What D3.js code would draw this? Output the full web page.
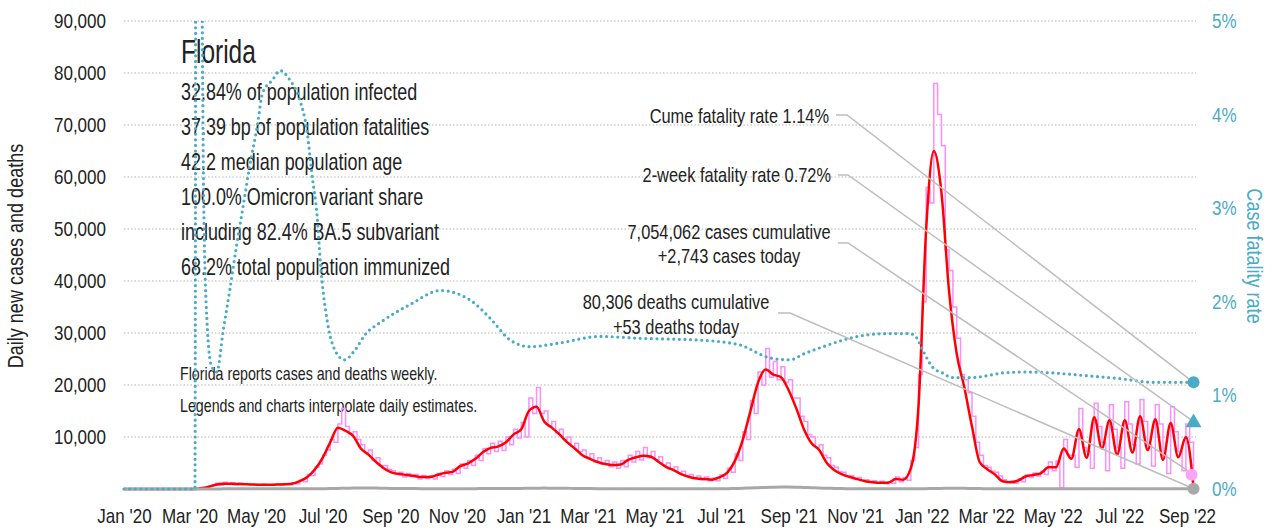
<!DOCTYPE html>
<html>
<head>
<meta charset="utf-8">
<script src="https://cdn.jsdelivr.net/npm/d3@7"></script>
<style>
  body { margin: 0; background: #fff; }
  svg text { font-family: "Liberation Sans", Arial, sans-serif; fill: #222; }
</style>
</head>
<body>
<svg id="chart" width="1281" height="532"></svg>
<script>
/* global d3 */
// weekly series start on this day; raw cases come twice a week
const seriesStart = '2020-01-01';

// 7-day average of new cases, one value per week
const avgCases = [
  0, 0, 0, 0, 0, 0, 0, 0, 0, 0,
  150, 400, 800, 1000, 1000, 950, 900, 850, 800, 800,
  850, 900, 1000, 1500, 2300, 3800, 6000, 9000, 11800, 11200,
  10200, 7800, 6600, 5200, 4000, 3200, 2900, 2700, 2500, 2300,
  2300, 2700, 3100, 3300, 4400, 4900, 5800, 7100, 7900, 8200,
  9000, 10500, 11500, 15000, 15800, 13000, 11800, 10500, 9000, 7800,
  6500, 5800, 5200, 4800, 4600, 4700, 5600, 6100, 6400, 6200,
  5200, 4200, 3600, 2800, 2300, 2000, 1900, 1800, 2300, 3200,
  5500, 9500, 15000, 20500, 23000, 22000, 21500, 19000, 15500, 11500,
  8800, 7500, 5000, 3600, 2800, 2300, 1900, 1500, 1300, 1200,
  1200, 1900, 1800, 4000, 16000, 50000, 65000, 57000, 38000, 26000,
  19500, 12000, 5200, 3800, 2800, 1500, 1300, 1600, 2400, 2700,
  3000, 4200, 4200, 7800, 5800, 11500, 6000, 13800, 7800, 13200,
  6600, 13200, 7000, 14000, 7500, 13400, 5600, 12700, 6100, 10000,
  300
];

// reported new cases, two values per week
const rawCases = [
  0, 0, 0, 0, 0, 0, 0, 0, 0, 0, 0, 0, 0, 0, 0, 0, 0, 0, 0, 0,
  100, 300, 500, 700, 1100, 700, 1300, 900, 1200, 800,
  1100, 900, 1000, 800, 900, 700, 900, 700, 800, 900,
  1000, 700, 1000, 800, 1200, 1000, 1700, 1400, 2800, 2600,
  4200, 4800, 6500, 7500, 9500, 9000, 12500, 15500, 12000, 10500,
  11000, 9500, 8500, 7000, 7500, 5500, 6000, 4500, 4500, 3800,
  3500, 2800, 3200, 2300, 3000, 2400, 2800, 1900, 2600, 2000,
  2500, 1900, 3000, 2400, 3500, 2800, 3800, 3000, 4800, 4000,
  5500, 4500, 6500, 5500, 7800, 6800, 8800, 7200, 9200, 7400,
  10000, 8500, 11500, 9800, 12800, 10000, 17500, 14500, 19500, 14500,
  15000, 12000, 13000, 10800, 11500, 9500, 10000, 8200, 8800, 7200,
  7500, 6000, 6800, 5200, 6000, 4800, 5500, 4300, 5200, 4000,
  5500, 4300, 6500, 5200, 7200, 5600, 8000, 6000, 7200, 5600,
  6200, 4600, 5000, 3800, 4300, 3100, 3400, 2500, 2800, 2000,
  2500, 1800, 2300, 1600, 2100, 1600, 2700, 2000, 4000, 3200,
  6800, 5500, 11000, 9500, 17000, 14500, 22500, 20000, 27000, 21500,
  24500, 21000, 23500, 20500, 21000, 17500, 17500, 14000, 13000, 10500,
  10000, 8000, 8500, 6500, 6000, 4500, 4200, 3300, 3200, 2500,
  2600, 2000, 2200, 1700, 1800, 1300, 1600, 1100, 1500, 1000,
  1400, 1100, 2300, 1400, 2200, 1700, 5500, 8000, 22000, 36000,
  58000, 55000, 78000, 72000, 66000, 46000, 42000, 35000, 29000, 22000,
  21000, 18500, 14000, 9000, 6500, 4500, 4200, 3400, 3200, 2500,
  1800, 1300, 1500, 1100, 1900, 1400, 2700, 2200, 3100, 2500,
  3400, 2800, 5200, 3500, 5400, 300, 9500, 6500, 6500, 4200,
  15500, 8000, 7200, 4000, 16500, 12000, 9000, 3500, 16200, 11500,
  8000, 4000, 16800, 12500, 8500, 4800, 17200, 13000, 8500, 4400,
  16200, 12500, 6500, 3000, 15800, 11000, 7200, 3500, 12500, 9000,
  2743
];

// daily deaths, one value per week
const deaths = [
  0, 0, 0, 0, 0, 0, 0, 0, 0, 0,
  0, 2, 10, 25, 40, 45, 45, 40, 40, 35,
  35, 35, 35, 35, 35, 40, 50, 80, 120, 150,
  170, 180, 180, 170, 150, 120, 100, 90, 80, 70,
  60, 60, 60, 60, 60, 60, 70, 80, 80, 90,
  100, 110, 120, 140, 160, 170, 160, 150, 130, 110,
  100, 90, 70, 60, 60, 60, 60, 60, 60, 60,
  60, 50, 50, 40, 40, 30, 30, 30, 40, 60,
  100, 150, 200, 250, 300, 350, 380, 380, 350, 300,
  250, 200, 150, 110, 80, 60, 50, 40, 30, 30,
  30, 30, 30, 30, 40, 60, 90, 120, 150, 150,
  130, 100, 80, 60, 50, 40, 30, 30, 30, 30,
  30, 30, 40, 40, 40, 50, 50, 50, 50, 50,
  50, 50, 50, 50, 50, 50, 50, 50, 50, 50,
  53
];

// case fatality rate, percent
const cfrDates = [
  '2020-01-01', '2020-03-06', '2020-03-07', '2020-03-11', '2020-03-14', '2020-03-17',
  '2020-03-21', '2020-03-26', '2020-04-01', '2020-04-07', '2020-04-13', '2020-04-19',
  '2020-04-25', '2020-05-02', '2020-05-07', '2020-05-16', '2020-05-23', '2020-06-01',
  '2020-06-10', '2020-06-17', '2020-06-21', '2020-06-26', '2020-06-29', '2020-07-05',
  '2020-07-12', '2020-07-21', '2020-07-31', '2020-08-09', '2020-08-23', '2020-09-19',
  '2020-10-17', '2020-11-13', '2020-12-01', '2020-12-20', '2021-01-07', '2021-02-03',
  '2021-03-12', '2021-04-18', '2021-06-12', '2021-07-18', '2021-08-15', '2021-09-02',
  '2021-09-16', '2021-09-30', '2021-10-15', '2021-10-30', '2021-11-30', '2021-12-21',
  '2021-12-27', '2022-01-02', '2022-01-11', '2022-01-20', '2022-01-29', '2022-02-14',
  '2022-03-02', '2022-03-16', '2022-04-07', '2022-05-01', '2022-06-01', '2022-07-01',
  '2022-08-01', '2022-09-08'
];
const cfrValues = [
  0, 0, 7, 7, 3.1, 1.8,
  1.32, 1.25, 1.7, 2.13, 2.59, 3.01,
  3.44, 3.87, 4.23, 4.37, 4.47, 4.37,
  4.16, 3.8, 3.38, 2.91, 2.41, 1.81,
  1.49, 1.38, 1.49, 1.65, 1.78, 1.97,
  2.12, 2.02, 1.83, 1.59, 1.52, 1.56,
  1.63, 1.61, 1.59, 1.54, 1.4, 1.38,
  1.45, 1.51, 1.57, 1.62, 1.66, 1.66,
  1.62, 1.48, 1.3, 1.24, 1.19, 1.19,
  1.21, 1.24, 1.25, 1.24, 1.21, 1.18,
  1.14, 1.14
];

const cumeCfr = 1.14;
const twoWeekCfr = 0.72;
const casesToday = 2743;
const deathsToday = 53;

const xTickDates = ['2020-01-01', '2020-03-01', '2020-05-01', '2020-07-01', '2020-09-01',
  '2020-11-01', '2021-01-01', '2021-03-01', '2021-05-01', '2021-07-01', '2021-09-01',
  '2021-11-01', '2022-01-01', '2022-03-01', '2022-05-01', '2022-07-01', '2022-09-01'];
const yTicks = [10000, 20000, 30000, 40000, 50000, 60000, 70000, 80000, 90000];
const cfrTicks = [0, 1, 2, 3, 4, 5];

const title = 'Florida';
const statLines = [
  '32.84% of population infected',
  '37.39 bp of population fatalities',
  '42.2 median population age',
  '100.0% Omicron variant share',
  'including 82.4% BA.5 subvariant',
  '68.2% total population immunized'
];
const noteLines = [
  'Florida reports cases and deaths weekly.',
  'Legends and charts interpolate daily estimates.'
];

const parse = d3.timeParse('%Y-%m-%d');
const start = parse(seriesStart);

// no narrow font installed, so squeeze the text horizontally
function condense(sel, sx) {
  sel.each(function() {
    let t = d3.select(this);
    let tx = +t.attr('x') || 0, ty = +t.attr('y') || 0;
    let prev = t.attr('transform') || '';
    t.attr('x', 0).attr('y', 0)
      .attr('transform', prev + ' translate(' + tx + ',' + ty + ') scale(' + sx + ',1)');
  });
}

let svg = d3.select('#chart');

let x = d3.scaleTime()
  .domain([parse('2020-01-01'), parse('2022-09-01')])
  .range([124, 1187]);
let y = d3.scaleLinear().domain([0, 90000]).range([489, 21]);
let yCfr = d3.scaleLinear().domain([0, 5]).range([489, 21]);

// grid
svg.append('g').selectAll('line')
  .data(yTicks)
  .enter()
  .append('line')
  .attr('x1', 124).attr('x2', 1196)
  .attr('y1', d => y(d)).attr('y2', d => y(d))
  .attr('stroke', '#b5b5b5')
  .attr('stroke-width', 1)
  .attr('stroke-dasharray', '1.5,2');

// axes
let fmtDate = d3.timeFormat("%b '%y");
let xAxis = svg.append('g')
  .attr('transform', 'translate(0,489)')
  .call(d3.axisBottom(x).tickValues(xTickDates.map(parse)).tickFormat(fmtDate).tickSize(0).tickPadding(19));
let yAxis = svg.append('g')
  .attr('transform', 'translate(124,0)')
  .call(d3.axisLeft(y).tickValues(yTicks).tickFormat(d3.format(',')).tickSize(0).tickPadding(18));
let rAxis = svg.append('g')
  .attr('transform', 'translate(1196,0)')
  .call(d3.axisRight(yCfr).tickValues(cfrTicks).tickFormat(d => d + '%').tickSize(0).tickPadding(16));

[xAxis, yAxis, rAxis].forEach(a => {
  a.select('.domain').remove();
  a.attr('font-size', 20.5).attr('font-family', null);
  condense(a.selectAll('text'), 0.83);
});
xAxis.selectAll('text').attr('fill', '#222');
yAxis.selectAll('text').attr('fill', '#222');
rAxis.selectAll('text').style('fill', '#4aabc6');

// axis titles
condense(svg.append('text')
  .attr('transform', 'translate(23,256) rotate(-90)')
  .attr('text-anchor', 'middle')
  .attr('font-size', 22)
  .text('Daily new cases and deaths'), 0.82);
condense(svg.append('text')
  .attr('transform', 'translate(1247,256) rotate(90)')
  .attr('text-anchor', 'middle')
  .attr('font-size', 22)
  .style('fill', '#4aabc6')
  .text('Case fatality rate'), 0.82);

// title block
condense(svg.append('text')
  .attr('x', 181).attr('y', 63)
  .attr('font-size', 34)
  .text(title), 0.72);
condense(svg.append('g').selectAll('text')
  .data(statLines)
  .enter()
  .append('text')
  .attr('x', 181)
  .attr('y', (d, i) => 99.5 + i * 35)
  .attr('font-size', 23)
  .text(d => d), 0.78);
condense(svg.append('g').selectAll('text')
  .data(noteLines)
  .enter()
  .append('text')
  .attr('x', 180)
  .attr('y', (d, i) => 380 + i * 32)
  .attr('font-size', 18)
  .text(d => d), 0.79);

// data lines
svg.append('clipPath').attr('id', 'plotClip')
  .append('rect').attr('x', 100).attr('y', 21).attr('width', 1120).attr('height', 480);

let plot = svg.append('g').attr('clip-path', 'url(#plotClip)');

let weekly = vals => vals.map((v, i) => ({ date: d3.timeDay.offset(start, 7 * i), v: v }));
let halfWeekly = vals => vals.map((v, i) => ({ date: d3.timeHour.offset(start, 84 * i), v: v }));

let rawData = halfWeekly(rawCases);
let avgData = weekly(avgCases);
let deathData = weekly(deaths);
let cfrData = cfrDates.map((d, i) => ({ date: parse(d), v: cfrValues[i] }));

plot.append('path')
  .datum(rawData)
  .attr('fill', 'none')
  .attr('stroke', '#f98ff9')
  .attr('stroke-width', 1.5)
  .attr('d', d3.line().x(d => x(d.date)).y(d => y(d.v)).curve(d3.curveStepAfter));

plot.append('path')
  .datum(avgData)
  .attr('fill', 'none')
  .attr('stroke', '#ff0000')
  .attr('stroke-width', 2.5)
  .attr('d', d3.line().x(d => x(d.date)).y(d => y(d.v)).curve(d3.curveMonotoneX));

plot.append('path')
  .datum(deathData)
  .attr('fill', 'none')
  .attr('stroke', '#a8a8a8')
  .attr('stroke-width', 3)
  .attr('d', d3.line().x(d => x(d.date)).y(d => y(d.v)).curve(d3.curveMonotoneX));

plot.append('path')
  .datum(cfrData)
  .attr('fill', 'none')
  .attr('stroke', '#4aabc6')
  .attr('stroke-width', 3.2)
  .attr('stroke-linecap', 'round')
  .attr('stroke-dasharray', '0,5.6')
  .attr('d', d3.line().x(d => x(d.date)).y(d => yCfr(d.v)).curve(d3.curveMonotoneX));

// annotations and leader lines
let endDate = avgData[avgData.length - 1].date;
let ex = x(endDate);
let leaders = [
  { pts: [[836, 115], [847, 115], [ex, yCfr(cumeCfr)]] },
  { pts: [[838, 175], [848, 175], [ex, yCfr(twoWeekCfr)]] },
  { pts: [[838, 243], [848, 243], [ex, y(casesToday)]] },
  { pts: [[778, 313], [790, 313], [ex, y(deathsToday)]] }
];
svg.append('g').selectAll('path')
  .data(leaders)
  .enter()
  .append('path')
  .attr('fill', 'none')
  .attr('stroke', '#bdbdbd')
  .attr('stroke-width', 1.5)
  .attr('d', d => d3.line()(d.pts));

let fmtInt = d3.format(',');
let notes = svg.append('g').attr('font-size', 20);
notes.append('text').attr('x', 829).attr('y', 123).attr('text-anchor', 'end')
  .text('Cume fatality rate ' + cumeCfr.toFixed(2) + '%');
notes.append('text').attr('x', 831).attr('y', 182).attr('text-anchor', 'end')
  .text('2-week fatality rate ' + twoWeekCfr.toFixed(2) + '%');
notes.append('text').attr('x', 729).attr('y', 239).attr('text-anchor', 'middle')
  .text('7,054,062 cases cumulative');
notes.append('text').attr('x', 729).attr('y', 263).attr('text-anchor', 'middle')
  .text('+' + fmtInt(casesToday) + ' cases today');
notes.append('text').attr('x', 676).attr('y', 309).attr('text-anchor', 'middle')
  .text('80,306 deaths cumulative');
notes.append('text').attr('x', 676).attr('y', 334).attr('text-anchor', 'middle')
  .text('+' + deathsToday + ' deaths today');
condense(notes.selectAll('text'), 0.82);

// end markers
svg.append('circle').attr('cx', ex).attr('cy', y(deathsToday)).attr('r', 6).attr('fill', '#a8a8a8');
svg.append('circle').attr('cx', ex - 2).attr('cy', y(casesToday)).attr('r', 6).attr('fill', '#f7a6f7');
svg.append('circle').attr('cx', ex).attr('cy', yCfr(cumeCfr)).attr('r', 6).attr('fill', '#4aabc6');
svg.append('path')
  .attr('transform', 'translate(' + ex + ',' + (yCfr(twoWeekCfr) + 1) + ')')
  .attr('d', d3.symbol(d3.symbolTriangle, 110)())
  .attr('fill', '#4aabc6');
</script>
</body>
</html>
